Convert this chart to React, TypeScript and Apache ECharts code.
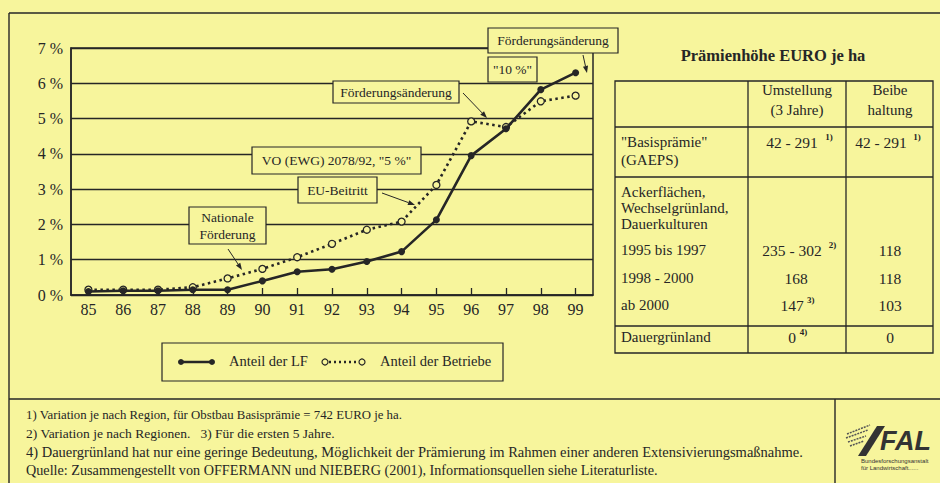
import React, { useEffect, useRef } from "react";
import * as echarts from "echarts";

const years = ["85", "86", "87", "88", "89", "90", "91", "92", "93", "94", "95", "96", "97", "98", "99"];
const anteilLF = [0.1, 0.12, 0.12, 0.15, 0.15, 0.4, 0.66, 0.73, 0.95, 1.23, 2.13, 3.95, 4.71, 5.82, 6.3];
const anteilBetriebe = [0.15, 0.15, 0.15, 0.22, 0.47, 0.74, 1.07, 1.45, 1.85, 2.08, 3.12, 4.92, 4.76, 5.49, 5.65];
const seriesNames = ["Anteil der LF", "Anteil der Betriebe"];

const tableTitle = "Prämienhöhe EURO je ha";
const tableHeader = [["Umstellung", "(3 Jahre)"], ["Beibe", "haltung"]];
const tableRowLabels = [
  ['"Basisprämie"', "(GAEPS)"],
  ["Ackerflächen,", "Wechselgrünland,", "Dauerkulturen"],
  ["1995 bis 1997"],
  ["1998 - 2000"],
  ["ab 2000"],
  ["Dauergrünland"],
];
const tableUmstellung = ["42 - 291", "", "235 - 302", "168", "147", "0"];
const tableUmstellungNote = ["1)", "", "2)", "", "3)", "4)"];
const tableBeibehaltung = ["42 - 291", "", "118", "118", "103", "0"];
const tableBeibehaltungNote = ["1)", "", "", "", "", ""];

const footnotes = [
  "1) Variation je nach Region, für Obstbau Basisprämie = 742 EURO je ha.",
  "2) Variation je nach Regionen.   3) Für die ersten 5 Jahre.",
  "4) Dauergrünland hat nur eine geringe Bedeutung, Möglichkeit der Prämierung im Rahmen einer anderen Extensivierungsmaßnahme.",
  "Quelle: Zusammengestellt von OFFERMANN und NIEBERG (2001), Informationsquellen siehe Literaturliste.",
];

const BG = "#f7f59c";
const INK = "#262626";
const SERIF = '"Liberation Serif", "Times New Roman", serif';

function txt(x: number, y: number, text: string, size: number, align = "left", extra: any = {}) {
  return {
    type: "text",
    x,
    y,
    z: 110,
    style: {
      text,
      fontSize: size,
      fontFamily: SERIF,
      fill: INK,
      align,
      textAlign: align,
      verticalAlign: "middle",
      textVerticalAlign: "middle",
      ...extra,
    },
  };
}

function ln(x1: number, y1: number, x2: number, y2: number, w = 1.3) {
  return { type: "line", z: 105, shape: { x1, y1, x2, y2 }, style: { stroke: INK, lineWidth: w } };
}

function box(x: number, y: number, w: number, h: number) {
  return { type: "rect", z: 100, shape: { x, y, width: w, height: h }, style: { fill: BG, stroke: INK, lineWidth: 1.2 } };
}

function arrow(x1: number, y1: number, x2: number, y2: number) {
  const a = Math.atan2(y2 - y1, x2 - x1);
  const L = 7, w = 2.6;
  const bx = x2 - L * Math.cos(a), by = y2 - L * Math.sin(a);
  return [
    ln(x1, y1, bx, by, 1),
    {
      type: "polygon",
      z: 105,
      shape: { points: [[x2, y2], [bx + w * Math.sin(a), by - w * Math.cos(a)], [bx - w * Math.sin(a), by + w * Math.cos(a)]] },
      style: { fill: INK },
    },
  ];
}

export default function App() {
  const ref = useRef<HTMLDivElement>(null);
  useEffect(() => {
    if (!ref.current) return;
    const chart = echarts.init(ref.current, null, { renderer: "svg" });
    const g: any[] = [];

    // outer frame
    g.push(ln(9, 13, 940, 13, 1.4), ln(9, 13, 9, 483, 1.4), ln(9, 399, 940, 399, 1.4), ln(835, 399, 835, 483, 1.4));

    // annotations
    g.push(box(189, 207, 77, 37), txt(227.5, 217, "Nationale", 13.5, "center"), txt(227.5, 234, "Förderung", 13.5, "center"));
    g.push(...arrow(228, 249, 242, 270));
    g.push(box(252, 147, 169, 27), txt(336.5, 160.5, 'VO (EWG) 2078/92, "5 %"', 13.5, "center"));
    g.push(box(298, 177, 79, 26), txt(337.5, 190, "EU-Beitritt", 13.5, "center"));
    g.push(...arrow(382, 193, 415, 205));
    g.push(box(333, 81, 126, 22), txt(396, 92, "Förderungsänderung", 13.5, "center"));
    g.push(...arrow(463, 93, 487, 118));
    g.push(box(488, 28, 130, 25), txt(553, 40.5, "Förderungsänderung", 13.5, "center"));
    g.push(box(488, 57, 49, 25), txt(512.5, 69.5, '"10 %"', 13.5, "center"));
    g.push(...arrow(583, 55, 587, 73));

    // legend box
    g.push({ type: "rect", z: 100, shape: { x: 162, y: 343, width: 341, height: 38 }, style: { fill: "none", stroke: INK, lineWidth: 1.2 } });
    g.push(ln(181, 362, 212, 362, 2.5));
    g.push({ type: "circle", z: 106, shape: { cx: 181, cy: 362, r: 3 }, style: { fill: INK } });
    g.push({ type: "circle", z: 106, shape: { cx: 212, cy: 362, r: 3 }, style: { fill: INK } });
    g.push(txt(229, 361, seriesNames[0], 14.5));
    g.push({ type: "line", z: 105, shape: { x1: 329, y1: 362, x2: 359, y2: 362 }, style: { stroke: INK, lineWidth: 2.5, lineDash: [2, 3] } });
    g.push({ type: "circle", z: 106, shape: { cx: 325, cy: 362, r: 3 }, style: { fill: BG, stroke: INK, lineWidth: 1.2 } });
    g.push({ type: "circle", z: 106, shape: { cx: 362, cy: 362, r: 3 }, style: { fill: BG, stroke: INK, lineWidth: 1.2 } });
    g.push(txt(380, 361, seriesNames[1], 14.5));

    // table
    g.push(txt(773, 55, tableTitle, 16.5, "center", { fontWeight: "bold" }));
    g.push({ type: "rect", z: 100, shape: { x: 615, y: 81, width: 318, height: 272 }, style: { fill: "none", stroke: INK, lineWidth: 1.3 } });
    g.push(ln(748, 81, 748, 353), ln(846, 81, 846, 353));
    g.push(ln(615, 127, 933, 127), ln(615, 177, 933, 177), ln(615, 326, 933, 326));
    g.push(txt(797, 90, tableHeader[0][0], 15, "center"), txt(797, 110, tableHeader[0][1], 15, "center"));
    g.push(txt(890, 90, tableHeader[1][0], 15, "center"), txt(890, 110, tableHeader[1][1], 15, "center"));
    const rowY = [[142, 160], [192, 208, 224], [250], [278], [305], [337]];
    tableRowLabels.forEach((lines, i) => {
      lines.forEach((l, j) => g.push(txt(621, rowY[i][j], l, 15)));
      const y = rowY[i][0];
      if (tableUmstellung[i]) {
        const hasNote = tableUmstellungNote[i] !== "";
        const cx = hasNote ? 792 : 796;
        g.push(txt(cx, y, tableUmstellung[i], 15.5, "center"));
        if (hasNote) {
          const w = tableUmstellung[i].length * 7.3;
          g.push(txt(cx + w / 2 + 4, y - 5, tableUmstellungNote[i], 9, "left", { fontWeight: "bold" }));
        }
      }
      if (tableBeibehaltung[i]) {
        const hasNote = tableBeibehaltungNote[i] !== "";
        const cx = hasNote ? 881 : 890;
        g.push(txt(cx, y, tableBeibehaltung[i], 15.5, "center"));
        if (hasNote) {
          const w = tableBeibehaltung[i].length * 7.3;
          g.push(txt(cx + w / 2 + 3, y - 5, tableBeibehaltungNote[i], 9, "left", { fontWeight: "bold" }));
        }
      }
    });

    // footnotes
    const fy = [415, 433, 452, 470];
    const fs = [12.8, 13.5, 14.5, 14.2];
    footnotes.forEach((f, i) => g.push(txt(26, fy[i], f, fs[i])));

    // logo
    g.push({ type: "polygon", z: 105, shape: { points: [[858, 456], [866, 456], [885, 426], [877, 426]] }, style: { fill: "#333" } });
    [[846, 438, 868, 430], [848, 442, 866, 436], [850, 446, 864, 441], [847, 434, 870, 425]].forEach((p) =>
      g.push({ type: "line", z: 105, shape: { x1: p[0], y1: p[1], x2: p[2], y2: p[3] }, style: { stroke: "#555", lineWidth: 1.5, lineDash: [2, 1] } })
    );
    g.push({
      type: "text", z: 110, x: 880, y: 441,
      style: { text: "FAL", fontSize: 27, fontWeight: "bold", fontStyle: "italic", fontFamily: '"Liberation Sans", Arial, sans-serif', fill: "#333", align: "left", textAlign: "left", verticalAlign: "middle", textVerticalAlign: "middle" },
    });
    g.push({
      type: "text", z: 110, x: 861, y: 461,
      style: { text: "Bundesforschungsanstalt", fontSize: 6, fontFamily: '"Liberation Sans", sans-serif', fill: "#333", align: "left", textAlign: "left", verticalAlign: "middle", textVerticalAlign: "middle" },
    });
    g.push({
      type: "text", z: 110, x: 861, y: 468,
      style: { text: "für Landwirtschaft......", fontSize: 6, fontFamily: '"Liberation Sans", sans-serif', fill: "#333", align: "left", textAlign: "left", verticalAlign: "middle", textVerticalAlign: "middle" },
    });

    chart.setOption({
      animation: false,
      backgroundColor: BG,
      textStyle: { fontFamily: SERIF, color: INK },
      grid: { left: 71, top: 48, width: 522, height: 247, show: true, borderColor: INK, borderWidth: 1.5, backgroundColor: "transparent" },
      xAxis: {
        type: "category",
        data: years,
        boundaryGap: true,
        axisLine: { show: true, lineStyle: { color: INK, width: 1.5 } },
        axisTick: { show: true, inside: true, length: 7, alignWithLabel: true, lineStyle: { color: INK, width: 1.3 } },
        axisLabel: { fontSize: 16, fontFamily: SERIF, color: INK, margin: 6 },
        splitLine: { show: false },
      },
      yAxis: {
        type: "value",
        min: 0,
        max: 7,
        interval: 1,
        axisLine: { show: true, lineStyle: { color: INK, width: 1.5 } },
        axisTick: { show: false },
        axisLabel: { fontSize: 16, fontFamily: SERIF, color: INK, margin: 8, formatter: "{value} %" },
        splitLine: { show: true, lineStyle: { color: INK, width: 1.4 } },
      },
      series: [
        {
          name: seriesNames[0],
          type: "line",
          data: anteilLF,
          symbol: "circle",
          symbolSize: 7,
          itemStyle: { color: INK },
          lineStyle: { color: INK, width: 2.6 },
          z: 3,
        },
        {
          name: seriesNames[1],
          type: "line",
          data: anteilBetriebe,
          symbol: "circle",
          symbolSize: 7,
          itemStyle: { color: BG, borderColor: INK, borderWidth: 1.3 },
          lineStyle: { color: INK, width: 2.6, type: [2.5, 3.5] },
          z: 2,
        },
      ],
      graphic: g,
    });
    return () => chart.dispose();
  }, []);
  return <div ref={ref} style={{ position: "fixed", left: 0, top: 0, width: 940, height: 483 }} />;
}
